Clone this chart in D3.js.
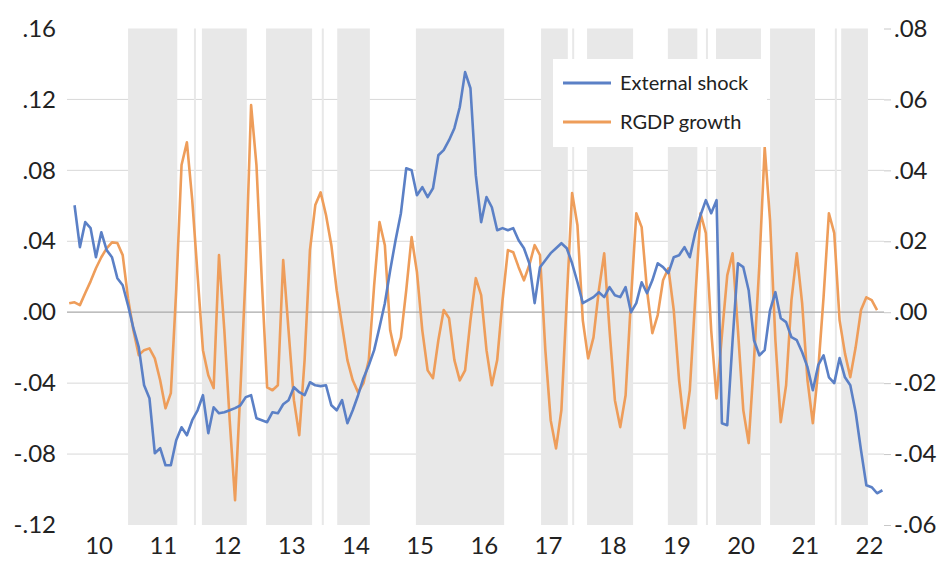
<!DOCTYPE html>
<html>
<head>
<meta charset="utf-8">
<script src="https://cdn.jsdelivr.net/npm/d3@7"></script>
<style>
  html, body { margin: 0; padding: 0; background: #fff; }
  svg { display: block; }
  text { font-family: Lato, "Open Sans", sans-serif; fill: #222; }
</style>
</head>
<body>
<svg id="chart" width="944" height="565"></svg>
<script>
// ---- DATA (monthly, index 0 = Jan 2010) ----
const yearLabels = ["10","11","12","13","14","15","16","17","18","19","20","21","22"];
const leftTicks = [-0.12, -0.08, -0.04, 0.00, 0.04, 0.08, 0.12, 0.16];
const rightTicks = [-0.06, -0.04, -0.02, 0.00, 0.02, 0.04, 0.06, 0.08];
const seriesNames = ["External shock", "RGDP growth"];

// External shock (left axis)
const externalShock = [null,0.0603,0.0367,0.0508,0.0474,0.0310,0.0451,0.0350,0.0310,0.0192,
 0.0152,0.0039,-0.0090,-0.0197,-0.0412,-0.0485,-0.0795,-0.0767,-0.0863,-0.0863,
 -0.0722,-0.0649,-0.0694,-0.0609,-0.0553,-0.0468,-0.0682,-0.0536,-0.0570,-0.0564,
 -0.0553,-0.0541,-0.0525,-0.0479,-0.0468,-0.0598,-0.0609,-0.0620,-0.0564,-0.0570,
 -0.0519,-0.0496,-0.0423,-0.0451,-0.0468,-0.0395,-0.0412,-0.0417,-0.0412,-0.0525,
 -0.0553,-0.0496,-0.0626,-0.0553,-0.0468,-0.0372,-0.0299,-0.0214,-0.0085,0.0051,
 0.0237,0.0406,0.0558,0.0812,0.0801,0.0660,0.0705,0.0649,0.0699,0.0885,
 0.0914,0.0970,0.1038,0.1156,0.1354,0.1263,0.0773,0.0508,0.0649,0.0592,
 0.0462,0.0474,0.0462,0.0474,0.0406,0.0361,0.0276,0.0051,0.0254,0.0293,
 0.0333,0.0361,0.0389,0.0361,0.0276,0.0169,0.0051,0.0068,0.0085,0.0113,
 0.0085,0.0141,0.0096,0.0085,0.0141,0.0000,0.0051,0.0169,0.0107,0.0180,
 0.0276,0.0254,0.0220,0.0310,0.0321,0.0367,0.0310,0.0446,0.0547,0.0632,
 0.0558,0.0632,-0.0626,-0.0637,-0.0158,0.0276,0.0254,0.0124,-0.0158,-0.0243,
 -0.0214,0.0011,0.0113,-0.0034,-0.0056,-0.0141,-0.0158,-0.0226,-0.0310,-0.0440,
 -0.0299,-0.0243,-0.0367,-0.0400,-0.0259,-0.0367,-0.0412,-0.0564,-0.0778,-0.0976,
 -0.0987,-0.1021,-0.1004];

// RGDP growth (right axis)
const rgdpGrowth = [0.0025,0.0028,0.0020,0.0054,0.0087,0.0124,0.0155,0.0180,0.0197,0.0195,
 0.0161,0.0039,-0.0051,-0.0121,-0.0107,-0.0102,-0.0130,-0.0192,-0.0271,-0.0228,
 0.0062,0.0415,0.0479,0.0316,0.0104,-0.0107,-0.0178,-0.0214,0.0161,-0.0051,
 -0.0305,-0.0530,-0.0220,0.0118,0.0584,0.0415,0.0090,-0.0212,-0.0220,-0.0206,
 0.0147,-0.0051,-0.0248,-0.0347,-0.0135,0.0175,0.0302,0.0338,0.0274,0.0189,
 0.0062,-0.0037,-0.0135,-0.0192,-0.0226,-0.0200,-0.0135,0.0076,0.0254,0.0189,
 -0.0051,-0.0121,-0.0071,0.0062,0.0212,0.0113,-0.0051,-0.0164,-0.0186,-0.0079,
 0.0006,-0.0017,-0.0135,-0.0192,-0.0164,-0.0023,0.0096,0.0048,-0.0107,-0.0206,
 -0.0135,0.0034,0.0175,0.0169,0.0127,0.0090,0.0133,0.0189,0.0161,-0.0107,
 -0.0305,-0.0384,-0.0276,0.0034,0.0336,0.0245,-0.0023,-0.0130,-0.0071,0.0062,
 0.0166,-0.0051,-0.0248,-0.0324,-0.0234,0.0034,0.0279,0.0240,0.0062,-0.0059,
 -0.0008,0.0090,0.0124,0.0006,-0.0192,-0.0327,-0.0220,0.0034,0.0279,0.0223,
 -0.0051,-0.0243,-0.0065,0.0104,0.0166,-0.0051,-0.0276,-0.0369,-0.0135,0.0133,
 0.0465,0.0259,-0.0079,-0.0310,-0.0206,0.0034,0.0166,0.0025,-0.0192,-0.0313,
 -0.0164,0.0042,0.0279,0.0223,-0.0023,-0.0116,-0.0183,-0.0099,0.0006,0.0042,
 0.0034,0.0006,null];

// Shaded periods (months since Jan 2010)
const shadedStart = [11.0, 24.8, 36.8, 50.1, 64.8, 88.2, 96.8, 111.9, 120.9, 131.0, 144.3];
const shadedEnd   = [20.2, 33.2, 45.4, 56.2, 81.3, 93.2, 105.4, 117.4, 129.3, 139.4, 149.3];
const shadedSingle = [23.5, 47.4, 94.2, 119.2, 143.3];

// ---- LAYOUT ----
const W = 944, H = 565;
const plot = { left: 67, right: 884, top: 28.5, bottom: 525 };
const colors = { shock: "#5b80c6", rgdp: "#ee9d5a", band: "#e8e8e8", grid: "#d9d9d9", zero: "#a9a9a9" };

const svg = d3.select("#chart");
svg.append("rect").attr("width", W).attr("height", H).attr("fill", "#fff");

const x = d3.scaleLinear().domain([0, 152]).range([69.2, 69.2 + 5.35 * 152]);
const yL = d3.scaleLinear().domain([-0.12, 0.16]).range([plot.bottom, plot.top]);
const yR = d3.scaleLinear().domain([-0.06, 0.08]).range([plot.bottom, plot.top]);

const fmt = v => {
  const s = Math.abs(v).toFixed(2).replace(/^0/, "");
  return (v < -1e-9 ? "-" : "") + s;
};

// gridlines (under the bands)
svg.append("g").selectAll("line")
  .data(leftTicks.filter(t => t !== 0 && t !== 0.16 && t !== -0.12))
  .join("line")
  .attr("x1", plot.left).attr("x2", plot.right)
  .attr("y1", d => yL(d)).attr("y2", d => yL(d))
  .attr("stroke", colors.grid).attr("stroke-width", 1);

// shaded bands
const bands = shadedStart.map((s, i) => ({ s, e: shadedEnd[i] }));
svg.append("g").selectAll("rect")
  .data(bands).join("rect")
  .attr("x", d => x(d.s)).attr("width", d => x(d.e) - x(d.s))
  .attr("y", plot.top).attr("height", plot.bottom - plot.top)
  .attr("fill", colors.band);
svg.append("g").selectAll("rect")
  .data(shadedSingle).join("rect")
  .attr("x", d => x(d) - 1).attr("width", 2)
  .attr("y", plot.top).attr("height", plot.bottom - plot.top)
  .attr("fill", colors.band);

// zero line
svg.append("line")
  .attr("x1", plot.left).attr("x2", plot.right)
  .attr("y1", yL(0)).attr("y2", yL(0))
  .attr("stroke", colors.zero).attr("stroke-width", 1.3);

// left axis
const axL = svg.append("g").attr("transform", `translate(${plot.left},0)`)
  .call(d3.axisLeft(yL).tickValues(leftTicks).tickFormat(fmt).tickSize(0).tickPadding(11));
axL.select(".domain").remove();
axL.selectAll("text").style("font-size", "24px").style("font-family", "Lato, sans-serif").attr("fill", "#222");

// right axis
const axR = svg.append("g").attr("transform", `translate(${plot.right},0)`)
  .call(d3.axisRight(yR).tickValues(rightTicks).tickFormat(fmt).tickSize(7).tickPadding(3));
axR.select(".domain").remove();
axR.selectAll("line").attr("stroke", "#c8c8c8");
axR.selectAll("text").style("font-size", "24px").style("font-family", "Lato, sans-serif").attr("fill", "#222");

// bottom axis (year labels centred on each year)
const axB = svg.append("g").attr("transform", `translate(0,${plot.bottom})`)
  .call(d3.axisBottom(x).tickValues(yearLabels.map((d, k) => 12 * k + 5.5))
    .tickFormat((d, k) => yearLabels[k]).tickSize(0).tickPadding(12));
axB.select(".domain").remove();
axB.selectAll("text").style("font-size", "24px").style("font-family", "Lato, sans-serif").attr("fill", "#222");

// lines
const lineL = d3.line().defined(d => d != null).x((d, i) => x(i)).y(d => yL(d));
const lineR = d3.line().defined(d => d != null).x((d, i) => x(i)).y(d => yR(d));

svg.append("path").datum(rgdpGrowth)
  .attr("d", lineR).attr("fill", "none")
  .attr("stroke", colors.rgdp).attr("stroke-width", 2.6).attr("stroke-linejoin", "round");
svg.append("path").datum(externalShock)
  .attr("d", lineL).attr("fill", "none")
  .attr("stroke", colors.shock).attr("stroke-width", 2.6).attr("stroke-linejoin", "round");

// legend
const lg = svg.append("g").attr("transform", "translate(553,59)");
lg.append("rect").attr("width", 214).attr("height", 88).attr("fill", "#fff");
const legendColors = [colors.shock, colors.rgdp];
seriesNames.forEach((name, i) => {
  const yy = 24 + i * 39;
  lg.append("line").attr("x1", 10).attr("x2", 58).attr("y1", yy).attr("y2", yy)
    .attr("stroke", legendColors[i]).attr("stroke-width", 3);
  lg.append("text").attr("x", 67).attr("y", yy).attr("dy", "0.35em")
    .style("font-size", "20px").text(name);
});
</script>
</body>
</html>
